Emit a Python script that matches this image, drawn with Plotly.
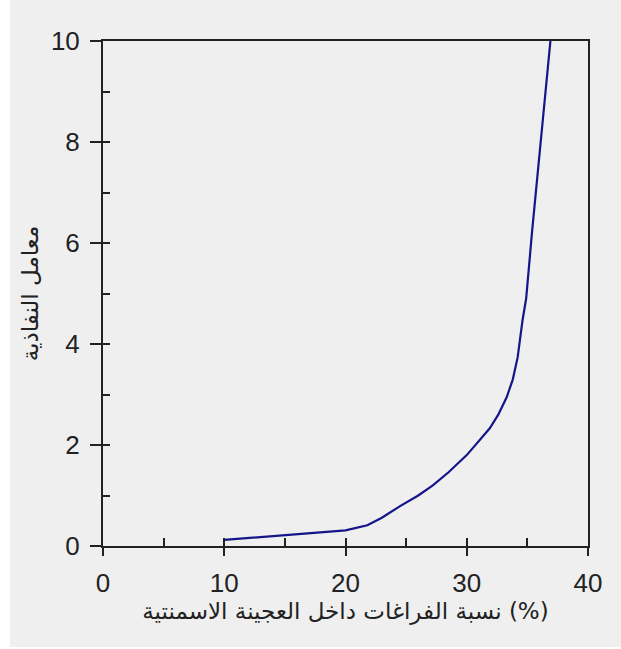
import plotly.graph_objects as go

# Data
void_ratio = [10, 12.5, 15, 17.5, 20, 21.8, 23, 24.5, 26, 27.2, 28.5, 30, 31.9,
              32.6, 33.3, 33.8, 34.2, 34.6, 34.9, 35.4, 35.8, 36.2, 36.9]
permeability = [0.12, 0.17, 0.22, 0.26, 0.31, 0.41, 0.56, 0.79, 1.0, 1.2, 1.46, 1.8, 2.33,
                2.6, 2.95, 3.3, 3.74, 4.47, 4.9, 6.26, 7.25, 8.24, 10.0]

x_ticks = [0, 10, 20, 30, 40]
y_ticks = [0, 2, 4, 6, 8, 10]

x_title = "نسبة الفراغات داخل العجينة الاسمنتية (%)"
y_title = "معامل النفاذية"

BG = "#efefef"
AX = "#222222"
FONT = "Liberation Sans, Arial, DejaVu Sans, sans-serif"
AFONT = "DejaVu Sans, sans-serif"

# plot area in px: x 103..588, y 41..546
PW, PH = 485.0, 505.0

fig = go.Figure()
fig.add_trace(go.Scatter(x=void_ratio, y=permeability, mode="lines",
                         line=dict(color="#15158a", width=2.2),
                         showlegend=False, hoverinfo="skip"))
# helper trace on overlay axes (for inner tick marks)
fig.add_trace(go.Scatter(x=void_ratio, y=permeability, mode="lines",
                         xaxis="x2", yaxis="y2", opacity=0,
                         line=dict(width=0), showlegend=False, hoverinfo="skip"))

# grey panel (white strip on the left and bottom edge as in the reference)
fig.add_shape(type="rect", xref="paper", yref="paper", layer="below",
              x0=(10 - 103) / PW, x1=(621 - 103) / PW,
              y0=(546 - 647) / PH, y1=(546 - 0) / PH,
              fillcolor=BG, line=dict(width=0))

fig.update_layout(
    width=621, height=649,
    margin=dict(l=103, r=33, t=41, b=103),
    paper_bgcolor="white", plot_bgcolor=BG,
    font=dict(family=FONT, color="#222222", size=26),
    xaxis=dict(range=[0, 40], tickvals=x_ticks, ticks="outside", ticklen=8,
               tickwidth=2, tickcolor=AX, showline=True, linecolor=AX, linewidth=2,
               mirror=True, showgrid=False, zeroline=False,
               tickfont=dict(size=26, family=FONT), ticklabelstandoff=5,
               title=dict(text=x_title, font=dict(size=23, family=AFONT),
                          standoff=0)),
    yaxis=dict(range=[0, 10], tickvals=y_ticks, ticks="outside", ticklen=11,
               tickwidth=2, tickcolor=AX, showline=True, linecolor=AX, linewidth=2,
               mirror=True, showgrid=False, zeroline=False,
               tickfont=dict(size=26, family=FONT), ticklabelstandoff=5,
               title=dict(text=y_title, font=dict(size=23, family=AFONT),
                          standoff=6)),
    xaxis2=dict(range=[0, 40], overlaying="x", anchor="y", dtick=5, tick0=0,
                ticks="inside", ticklen=8, tickwidth=2, tickcolor=AX,
                showticklabels=False, showgrid=False, zeroline=False, showline=False),
    yaxis2=dict(range=[0, 10], overlaying="y", anchor="x", dtick=1, tick0=0,
                ticks="inside", ticklen=7, tickwidth=2, tickcolor=AX,
                showticklabels=False, showgrid=False, zeroline=False, showline=False),
)

fig.write_html("out.html", config={"displayModeBar": False},
               post_script="document.body.style.margin='0';document.body.style.overflow='hidden';")
